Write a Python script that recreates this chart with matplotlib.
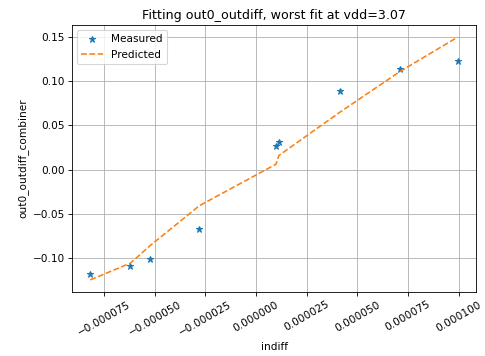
import matplotlib
matplotlib.use("Agg")
import matplotlib.pyplot as plt
import numpy as np


indiff = np.array([-81.8e-6, -62.0e-6, -52.2e-6, -28.0e-6, 9.8e-6, 11.3e-6, 41.4e-6, 71.0e-6, 99.5e-6])
measured = np.array([-0.118, -0.109, -0.101, -0.067, 0.027, 0.031, 0.089, 0.114, 0.123])
predicted = np.array([-0.125, -0.106, -0.086, -0.041, 0.006, 0.016, 0.065, 0.111, 0.150])

DPI = 485 / 6.4


def main() -> None:
    fig, ax = plt.subplots(figsize=(6.4, 356 / DPI), dpi=DPI)

    ax.plot(indiff, measured, "*", label="Measured")
    ax.plot(indiff, predicted, "--", label="Predicted")

    ax.set_xlabel("indiff")
    ax.set_ylabel("out0_outdiff_combiner")
    ax.set_title("Fitting out0_outdiff, worst fit at vdd=3.07")
    ax.legend(loc="upper left")
    ax.grid(True)
    ax.tick_params(axis="x", labelrotation=30)

    fig.subplots_adjust(left=72 / 485, right=476 / 485, top=1 - 25 / 356, bottom=1 - 292 / 356)
    fig.savefig("out.png", dpi=DPI)
    plt.close(fig)


if __name__ == "__main__":
    main()
